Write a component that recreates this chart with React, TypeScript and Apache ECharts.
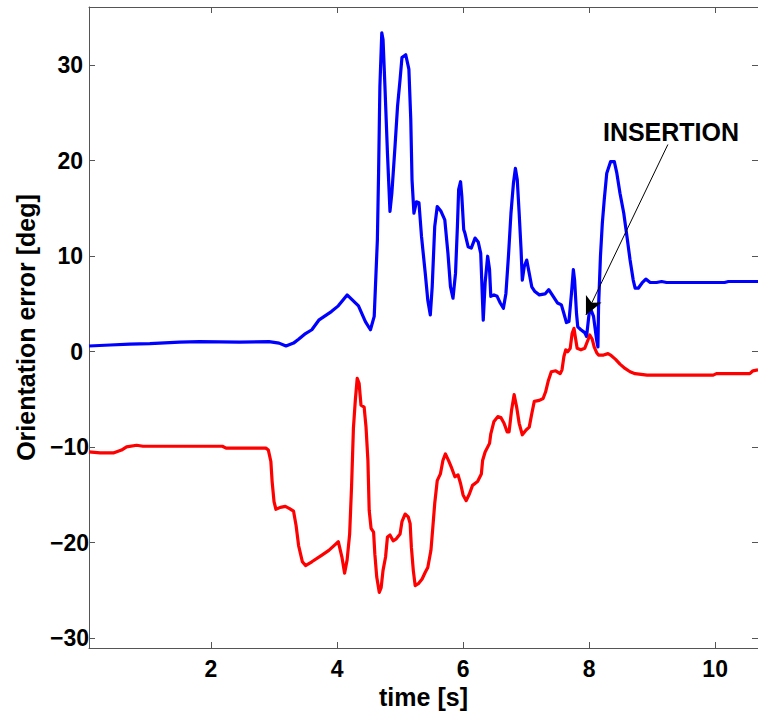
import React, { useEffect, useRef } from "react";
import * as echarts from "echarts";

const xTicks = [2, 4, 6, 8, 10];
const yTicks = [-30, -20, -10, 0, 10, 20, 30];

const blueT = [0.064, 0.4, 0.71, 1.03, 1.5, 1.82, 2.45, 2.92, 3.08, 3.19, 3.31, 3.39, 3.5, 3.6, 3.71, 3.91, 4.02, 4.16, 4.34, 4.45, 4.53, 4.59, 4.64, 4.66, 4.68, 4.71, 4.73, 4.76, 4.8, 4.84, 4.87, 4.92, 4.96, 5.0, 5.03, 5.09, 5.14, 5.17, 5.19, 5.22, 5.26, 5.3, 5.34, 5.4, 5.44, 5.48, 5.51, 5.55, 5.59, 5.65, 5.71, 5.76, 5.8, 5.84, 5.88, 5.91, 5.93, 5.96, 5.98, 6.01, 6.03, 6.08, 6.13, 6.19, 6.24, 6.28, 6.3, 6.32, 6.35, 6.39, 6.42, 6.44, 6.49, 6.54, 6.59, 6.64, 6.68, 6.72, 6.76, 6.8, 6.83, 6.86, 6.89, 6.92, 6.94, 6.97, 7.01, 7.05, 7.09, 7.14, 7.21, 7.3, 7.36, 7.43, 7.5, 7.56, 7.6, 7.64, 7.68, 7.72, 7.75, 7.77, 7.8, 7.82, 7.87, 7.93, 7.96, 8.0, 8.03, 8.07, 8.12, 8.14, 8.15, 8.18, 8.21, 8.24, 8.28, 8.34, 8.4, 8.44, 8.49, 8.55, 8.6, 8.65, 8.7, 8.73, 8.78, 8.84, 8.9, 8.97, 9.07, 9.15, 9.23, 10.15, 10.21, 10.68];
const blueV = [0.6, 0.7, 0.8, 0.85, 1.0, 1.05, 1.0, 1.05, 0.9, 0.6, 0.9, 1.3, 1.9, 2.3, 3.3, 4.2, 4.8, 5.95, 4.8, 3.15, 2.3, 3.7, 11.7, 19, 27.8, 33.4, 32.7, 27.8, 20.8, 14.7, 16.6, 21.5, 25.7, 28.5, 30.8, 31.1, 29.6, 24.3, 18, 14.5, 15.7, 15.6, 12.1, 8.2, 5.4, 3.85, 6.8, 13.1, 15.2, 14.7, 13.8, 10.3, 6.8, 5.6, 8.2, 13.1, 17, 17.8, 16.3, 12.8, 12.4, 11.0, 10.85, 11.9, 11.5, 10.3, 6.8, 3.3, 7.2, 10.0, 8.6, 5.8, 5.95, 5.8, 5.1, 4.55, 6.1, 10.0, 14.5, 17.7, 19.2, 18, 14.5, 10.7, 7.5, 8.9, 9.6, 8.2, 6.8, 6.3, 5.95, 6.05, 6.5, 5.8, 5.1, 4.9, 4.0, 3.05, 3.15, 6.1, 8.6, 7.5, 4.0, 2.6, 2.3, 2.0, 1.6, 4.0, 4.4, 3.7, 1.2, 0.5, 4.7, 10.0, 13.5, 15.9, 18.7, 19.9, 19.9, 18.7, 16.6, 14.5, 12.1, 9.6, 7.5, 6.65, 6.65, 7.2, 7.6, 7.25, 7.25, 7.35, 7.25, 7.25, 7.35, 7.35];

const redT = [0.064, 0.24, 0.45, 0.58, 0.66, 0.82, 0.92, 2.18, 2.24, 2.87, 2.91, 2.95, 2.97, 3.0, 3.03, 3.1, 3.18, 3.24, 3.31, 3.35, 3.39, 3.45, 3.5, 3.6, 3.76, 3.87, 3.97, 4.02, 4.08, 4.12, 4.16, 4.2, 4.23, 4.26, 4.29, 4.32, 4.35, 4.38, 4.43, 4.46, 4.49, 4.51, 4.54, 4.58, 4.6, 4.63, 4.67, 4.7, 4.73, 4.77, 4.8, 4.84, 4.89, 4.94, 5.0, 5.03, 5.08, 5.13, 5.16, 5.18, 5.21, 5.24, 5.29, 5.35, 5.4, 5.44, 5.49, 5.52, 5.55, 5.59, 5.64, 5.68, 5.72, 5.77, 5.82, 5.87, 5.92, 5.96, 6.0, 6.05, 6.1, 6.15, 6.23, 6.29, 6.31, 6.35, 6.42, 6.44, 6.49, 6.55, 6.6, 6.65, 6.7, 6.73, 6.77, 6.81, 6.85, 6.89, 6.94, 7.0, 7.05, 7.09, 7.13, 7.21, 7.27, 7.31, 7.35, 7.4, 7.47, 7.54, 7.57, 7.6, 7.63, 7.66, 7.7, 7.73, 7.76, 7.78, 7.81, 7.87, 7.93, 7.98, 8.01, 8.05, 8.08, 8.12, 8.15, 8.23, 8.3, 8.34, 8.42, 8.49, 8.57, 8.65, 8.73, 8.92, 9.97, 10.02, 10.55, 10.6, 10.68];
const redV = [-10.5, -10.6, -10.6, -10.3, -9.97, -9.8, -9.9, -9.9, -10.1, -10.1, -10.3, -11.5, -13.6, -15.7, -16.5, -16.3, -16.2, -16.4, -16.7, -18.2, -20.3, -22.0, -22.4, -22.0, -21.3, -20.8, -20.2, -19.9, -21.6, -23.2, -21.8, -19.1, -14.2, -8.0, -5.1, -2.8, -3.3, -5.6, -5.8, -7.9, -11.4, -16.6, -18.5, -18.9, -21.2, -23.6, -25.2, -24.7, -22.9, -21.5, -19.4, -19.2, -19.8, -19.6, -19.1, -17.8, -17.0, -17.3, -18.0, -20.5, -22.9, -24.5, -24.3, -23.8, -23.1, -22.6, -20.8, -18.4, -15.9, -13.5, -12.8, -11.4, -10.7, -11.4, -12.2, -13.1, -12.9, -13.8, -15.0, -15.6, -14.9, -14.0, -13.6, -12.8, -11.4, -10.5, -9.6, -8.6, -7.3, -6.8, -6.9, -7.5, -8.4, -8.4, -6.1, -4.5, -5.8, -7.5, -8.7, -8.2, -7.9, -6.5, -5.2, -5.1, -4.9, -4.2, -3.1, -2.1, -2.0, -2.3, -1.9, -0.5, 0.2, 0.0, 0.35, 1.9, 2.45, 1.6, 0.35, 0.2, 0.35, 1.2, 1.75, 1.3, 0.5, -0.1, -0.35, -0.35, -0.2, -0.35, -0.8, -1.3, -1.75, -2.1, -2.3, -2.45, -2.45, -2.3, -2.3, -2.0, -1.9];

const arrowFrom = [9.25, 21.7];
const arrowTo = [7.95, 3.85];
const annotationText = "INSERTION";

const FONT = "Liberation Sans, Arial, Helvetica, sans-serif";
const AXIS_COLOR = "#555555";

export default function App() {
  const ref = useRef<HTMLDivElement>(null);
  useEffect(() => {
    if (!ref.current) return;
    const chart = echarts.init(ref.current, null, { renderer: "svg" });
    const blueData = blueT.map((t, i) => [t, blueV[i]]);
    const redData = redT.map((t, i) => [t, redV[i]]);
    const tickStyle = { inside: true, length: 6, lineStyle: { color: AXIS_COLOR, width: 1 } };
    chart.setOption({
      animation: false,
      backgroundColor: "#ffffff",
      textStyle: { fontFamily: FONT },
      grid: { left: 89, right: -4, top: 7, bottom: 67 },
      xAxis: [
        {
          type: "value",
          min: 0.064,
          max: 10.68,
          position: "bottom",
          name: "time [s]",
          nameLocation: "middle",
          nameGap: 34,
          nameTextStyle: { fontSize: 25, fontWeight: "bold", color: "#000", fontFamily: FONT },
          axisLine: { show: true, onZero: false, lineStyle: { color: AXIS_COLOR, width: 1 } },
          axisTick: { ...tickStyle, customValues: xTicks },
          axisLabel: {
            customValues: xTicks,
            fontSize: 23,
            fontWeight: "bold",
            color: "#000",
            fontFamily: FONT,
            margin: 9,
          },
          splitLine: { show: false },
        },
        {
          type: "value",
          min: 0.064,
          max: 10.68,
          position: "top",
          axisLine: { show: true, onZero: false, lineStyle: { color: AXIS_COLOR, width: 1 } },
          axisTick: { ...tickStyle, customValues: xTicks },
          axisLabel: { show: false },
          splitLine: { show: false },
        },
      ],
      yAxis: [
        {
          type: "value",
          min: -31.03,
          max: 36.1,
          position: "left",
          name: "Orientation error [deg]",
          nameLocation: "middle",
          nameGap: 51,
          nameTextStyle: { fontSize: 25, fontWeight: "bold", color: "#000", fontFamily: FONT },
          axisLine: { show: true, onZero: false, lineStyle: { color: AXIS_COLOR, width: 1 } },
          axisTick: { ...tickStyle, customValues: yTicks },
          axisLabel: {
            customValues: yTicks,
            margin: 0,
            formatter: (v: number) =>
              v < 0 ? `{neg|\u2212${Math.abs(v)}}` : `{pos|${v}}`,
            rich: {
              pos: { fontSize: 23, fontWeight: "bold", color: "#000", fontFamily: FONT, padding: [0, 6, 0, 0] },
              neg: { fontSize: 23, fontWeight: "bold", color: "#000", fontFamily: FONT, padding: [0, 0, 0, 0] },
            },
          },
          splitLine: { show: false },
        },
        {
          type: "value",
          min: -31.03,
          max: 36.1,
          position: "right",
          axisLine: { show: true, onZero: false, lineStyle: { color: AXIS_COLOR, width: 1 } },
          axisTick: { ...tickStyle, customValues: yTicks },
          axisLabel: { show: false },
          splitLine: { show: false },
        },
      ],
      series: [
        {
          type: "line",
          name: "blue",
          data: blueData,
          xAxisIndex: 0,
          yAxisIndex: 0,
          showSymbol: false,
          symbol: "none",
          clip: true,
          lineStyle: { color: "#0000ff", width: 3.2, join: "round" },
          markLine: {
            silent: true,
            symbol: ["none", "arrow"],
            symbolSize: [13, 18],
            label: { show: false },
            lineStyle: { color: "#000000", width: 1, type: "solid" },
            data: [[{ coord: arrowFrom }, { coord: arrowTo }]],
          },
        },
        {
          type: "line",
          name: "red",
          data: redData,
          xAxisIndex: 0,
          yAxisIndex: 0,
          showSymbol: false,
          symbol: "none",
          clip: true,
          lineStyle: { color: "#ff0000", width: 3.2, join: "round" },
        },
      ],
      graphic: [
        {
          type: "text",
          x: 671,
          y: 132,
          style: {
            text: annotationText,
            fontSize: 25,
            fontWeight: "bold",
            fontFamily: FONT,
            fill: "#000",
            textAlign: "center",
            textVerticalAlign: "middle",
          },
        },
      ],
    });
    return () => chart.dispose();
  }, []);
  return (
    <div
      ref={ref}
      style={{ position: "absolute", left: 0, top: 0, width: 758, height: 715, overflow: "hidden" }}
    />
  );
}
